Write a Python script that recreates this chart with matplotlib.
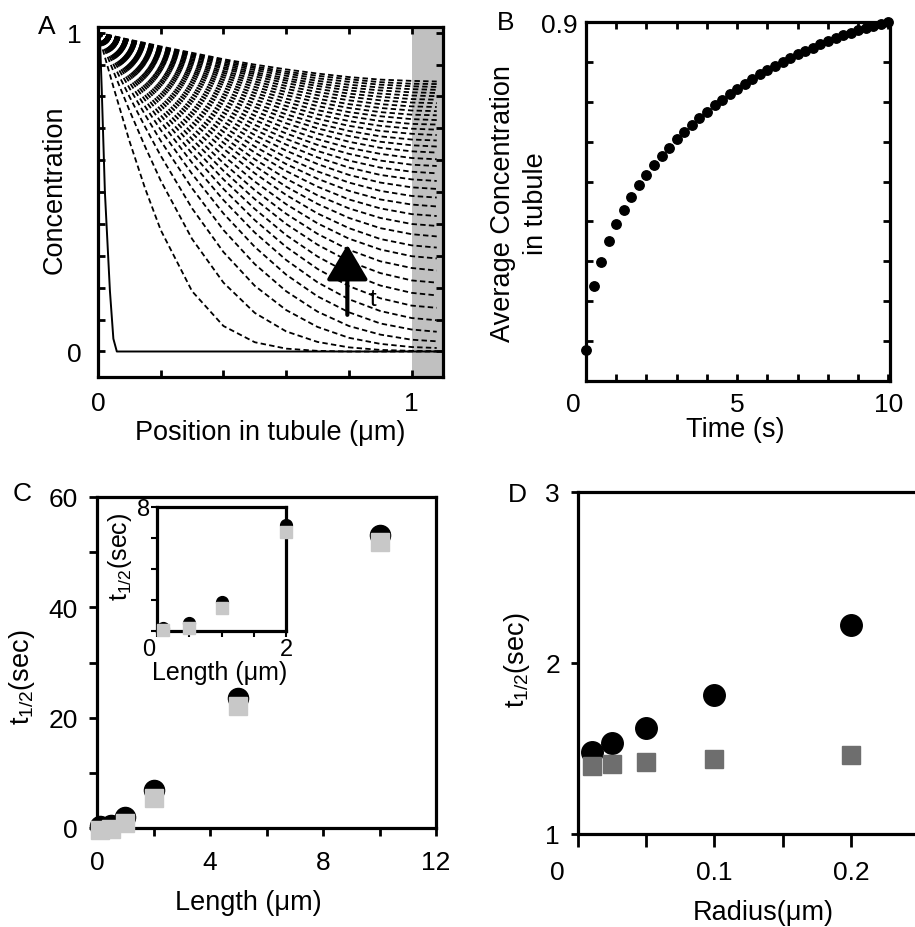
import numpy as np
import matplotlib
matplotlib.use('Agg')
import matplotlib.pyplot as plt
from matplotlib.transforms import ScaledTranslation

plt.rcParams['font.family'] = ['Liberation Sans', 'DejaVu Sans']
plt.rcParams['mathtext.default'] = 'regular'

# ---- panel A: concentration profiles along the tubule (one dashed line per time step)
pos_um = [0, 0.05, 0.1, 0.15, 0.2, 0.3, 0.4, 0.5, 0.6, 0.7, 0.8, 0.9, 1.0, 1.08]
profiles = [
    [1, .827, .661, .512, .381, .189, .080, .029, .009, .002, 0, 0, 0, 0],
    [1, .877, .757, .643, .536, .353, .216, .121, .063, .030, .013, .005, .002, .001],
    [1, .899, .800, .705, .614, .449, .312, .206, .130, .077, .043, .024, .014, .011],
    [1, .913, .827, .743, .661, .512, .381, .274, .189, .125, .080, .053, .037, .032],
    [1, .922, .845, .769, .695, .557, .433, .328, .241, .173, .123, .088, .069, .062],
    [1, .929, .858, .789, .721, .592, .475, .373, .287, .217, .164, .127, .105, .098],
    [1, .934, .869, .804, .741, .621, .510, .412, .328, .259, .205, .167, .144, .137],
    [1, .939, .878, .817, .758, .645, .540, .447, .365, .298, .245, .207, .184, .176],
    [1, .942, .885, .829, .773, .666, .567, .478, .400, .335, .283, .246, .223, .216],
    [1, .946, .892, .839, .786, .685, .591, .506, .432, .369, .319, .283, .262, .254],
    [1, .949, .898, .848, .798, .703, .614, .533, .462, .402, .354, .320, .299, .292],
    [1, .952, .904, .857, .810, .720, .636, .559, .491, .433, .387, .353, .333, .326],
    [1, .954, .909, .864, .820, .735, .655, .582, .517, .463, .419, .387, .368, .361],
    [1, .957, .914, .871, .829, .748, .672, .603, .542, .490, .449, .419, .400, .394],
    [1, .959, .918, .878, .838, .761, .689, .624, .566, .517, .477, .449, .431, .425],
    [1, .961, .922, .884, .847, .774, .705, .643, .588, .542, .504, .477, .461, .455],
    [1, .963, .926, .890, .854, .785, .721, .662, .609, .565, .530, .504, .488, .483],
    [1, .965, .930, .896, .862, .796, .735, .679, .630, .588, .554, .530, .515, .510],
    [1, .967, .934, .901, .869, .807, .749, .696, .649, .609, .577, .554, .540, .535],
    [1, .969, .937, .906, .876, .817, .762, .711, .667, .629, .599, .577, .564, .559],
    [1, .970, .941, .911, .882, .826, .774, .726, .684, .648, .620, .599, .586, .582],
    [1, .972, .944, .916, .888, .835, .786, .740, .700, .666, .639, .620, .607, .603],
    [1, .973, .947, .920, .894, .844, .797, .754, .716, .684, .658, .639, .628, .624],
    [1, .975, .949, .924, .900, .852, .807, .767, .731, .700, .676, .658, .647, .643],
    [1, .976, .952, .928, .905, .860, .817, .778, .744, .715, .692, .675, .665, .662],
    [1, .977, .954, .932, .910, .867, .827, .790, .758, .730, .708, .692, .683, .679],
    [1, .978, .957, .935, .914, .874, .836, .801, .770, .744, .723, .708, .699, .696],
    [1, .979, .959, .939, .919, .880, .844, .811, .782, .757, .738, .723, .714, .712],
    [1, .981, .961, .942, .923, .886, .852, .821, .793, .770, .751, .738, .729, .726],
    [1, .982, .963, .945, .927, .892, .860, .830, .804, .782, .764, .751, .743, .741],
    [1, .983, .965, .948, .931, .898, .867, .839, .814, .793, .776, .764, .756, .754],
    [1, .983, .967, .950, .934, .903, .874, .847, .824, .804, .788, .776, .769, .767],
    [1, .984, .969, .953, .938, .908, .880, .855, .833, .814, .799, .788, .781, .779],
    [1, .985, .970, .955, .941, .913, .887, .863, .842, .824, .809, .799, .792, .790],
    [1, .986, .972, .958, .944, .917, .892, .870, .850, .833, .819, .809, .803, .801],
    [1, .987, .973, .960, .947, .922, .898, .876, .857, .841, .828, .819, .813, .811],
    [1, .987, .975, .962, .950, .926, .903, .883, .865, .849, .837, .828, .823, .821],
    [1, .988, .976, .964, .952, .930, .908, .889, .872, .857, .846, .837, .832, .830],
    [1, .989, .977, .966, .955, .933, .913, .894, .878, .865, .854, .845, .840, .839],
    [1, .989, .978, .968, .957, .937, .917, .900, .885, .872, .861, .853, .849, .847],
]
start_x = [0, 0.006, 0.012, 0.022, 0.038, 0.049, 0.06, 1.1]
start_c = [1.0, 0.99, 0.82, 0.50, 0.19, 0.04, 0.0, 0.0]

# ---- panel B: average concentration in tubule vs time
time_s = [0, 0.25, 0.5, 0.75, 1, 1.25, 1.5, 1.75, 2, 2.25, 2.5, 2.75, 3, 3.25, 3.5, 3.75,
          4, 4.25, 4.5, 4.75, 5, 5.25, 5.5, 5.75, 6, 6.25, 6.5, 6.75, 7, 7.25, 7.5, 7.75,
          8, 8.25, 8.5, 8.75, 9, 9.25, 9.5, 9.75, 10]
avg_conc = [0.077, 0.237, 0.299, 0.352, 0.393, 0.429, 0.462, 0.491, 0.516, 0.541, 0.564,
            0.585, 0.606, 0.624, 0.642, 0.660, 0.675, 0.691, 0.705, 0.719, 0.733, 0.745,
            0.758, 0.769, 0.780, 0.790, 0.800, 0.811, 0.819, 0.827, 0.836, 0.844, 0.852,
            0.859, 0.867, 0.873, 0.879, 0.885, 0.890, 0.896, 0.900]

# ---- panel C: t1/2 vs tubule length (main + inset)
length_um = [0.1, 0.5, 1, 2, 5, 10]
thalf_circ = [0.3, 0.6, 2.0, 6.8, 23.5, 53.1]
thalf_sq = [-0.4, -0.2, 0.9, 5.5, 22.2, 51.8]
inset_len = [0.1, 0.5, 1, 2]
inset_circ = [0.22, 0.54, 1.88, 6.84]
inset_sq = [0.07, 0.22, 1.47, 6.36]

# ---- panel D: t1/2 vs tubule radius
radius_um = [0.01, 0.025, 0.05, 0.1, 0.2]
rad_circ = [1.48, 1.53, 1.62, 1.81, 2.22]
rad_sq = [1.40, 1.41, 1.42, 1.44, 1.46]

W, H = 915, 928
fig = plt.figure(figsize=(W / 100, H / 100), dpi=100)


def box(l, t, r, b):
    return [l / W, 1 - b / H, (r - l) / W, (b - t) / H]


LAB = 19.5
TCK = 19
SPW = 2.3


def frame(ax):
    for s in ax.spines.values():
        s.set_linewidth(SPW)


def shift_first_xlabel(ax, dx_px):
    lbl = ax.get_xticklabels()[0]
    lbl.set_transform(lbl.get_transform() + ScaledTranslation(dx_px / 100, 0, fig.dpi_scale_trans))


# A
axA = fig.add_axes(box(98, 28, 443, 378))
axA.axvspan(1.0, 1.1, color='#c0c0c0', lw=0, zorder=0)
for row in profiles:
    axA.plot(pos_um, row, color='k', lw=1.3, ls=(0, (3, 1.8)))
axA.plot(start_x, start_c, color='k', lw=1.4)
axA.annotate('', xy=(0.795, 0.335), xytext=(0.795, 0.115),
             arrowprops=dict(arrowstyle='-|>,head_length=1.1,head_width=0.65', lw=3,
                             color='k', mutation_scale=20, shrinkA=0, shrinkB=0))
axA.text(0.878, 0.165, 't', fontsize=17, ha='center', va='center')
axA.set_xlim(0, 1.1)
axA.set_ylim(-0.08, 1.018)
axA.set_xticks([0, 0.2, 0.4, 0.6, 0.8, 1.0], ['0', '', '', '', '', '1'])
axA.set_yticks([0, .1, .2, .3, .4, .5, .6, .7, .8, .9, 1.0],
               ['0', '', '', '', '', '', '', '', '', '', '1'])
axA.tick_params(direction='in', length=5, width=2, top=True, right=True, labelsize=TCK)
axA.tick_params(axis='x', pad=10)
axA.tick_params(axis='y', pad=12)
axA.set_xlabel('Position in tubule (\u03bcm)', fontsize=LAB)
axA.set_ylabel('Concentration', fontsize=LAB)
axA.xaxis.label.set_va('center')
axA.yaxis.label.set_va('center')
axA.xaxis.set_label_coords(0.5, -0.157)
axA.yaxis.set_label_coords(-0.125, 0.537)
frame(axA)

# B
axB = fig.add_axes(box(586, 23, 890, 382))
axB.plot(time_s, avg_conc, 'o', color='k', ms=6.8, clip_on=False)
axB.set_xlim(0, 10.05)
axB.set_ylim(0, 0.9)
axB.set_xticks(range(11), ['0', '', '', '', '', '5', '', '', '', '', '10'])
axB.set_yticks([0, .1, .2, .3, .4, .5, .6, .7, .8, .9],
               ['', '', '', '', '', '', '', '', '', '0.9'])
axB.tick_params(direction='in', length=5, width=2, top=True, right=True, labelsize=TCK)
axB.tick_params(axis='x', pad=8)
axB.tick_params(axis='y', pad=6)
axB.set_xlabel('Time (s)', fontsize=LAB)
axB.set_ylabel('Average Concentration\nin tubule', fontsize=LAB, linespacing=1.35)
axB.xaxis.label.set_va('center')
axB.yaxis.label.set_va('center')
axB.xaxis.set_label_coords(0.49, -0.134)
axB.yaxis.set_label_coords(-0.22, 0.496)
frame(axB)
shift_first_xlabel(axB, -13)

# C
axC = fig.add_axes(box(97, 498, 436, 829))
axC.plot(length_um, thalf_circ, 'o', color='k', ms=14.5, clip_on=False, zorder=3)
axC.plot(length_um, thalf_sq, 's', color='#c8c8c8', ms=13, clip_on=False, zorder=4)
axC.set_xlim(0, 12)
axC.set_ylim(0, 60)
axC.set_xticks([0, 2, 4, 6, 8, 10, 12], ['0', '', '4', '', '8', '', '12'])
axC.set_yticks([0, 10, 20, 30, 40, 50, 60], ['0', '', '20', '', '40', '', '60'])
axC.tick_params(direction='out', length=6, width=2, top=False, right=False, labelsize=TCK)
axC.tick_params(axis='x', pad=10)
axC.tick_params(axis='y', pad=8)
axC.set_xlabel('Length (\u03bcm)', fontsize=LAB)
axC.set_ylabel('t$_{1/2}$(sec)', fontsize=LAB)
axC.xaxis.label.set_va('center')
axC.yaxis.label.set_va('center')
axC.xaxis.set_label_coords(0.445, -0.224)
axC.yaxis.set_label_coords(-0.221, 0.459)
frame(axC)

axI = fig.add_axes(box(157, 508, 286, 632))
axI.plot(inset_len, inset_circ, 'o', color='k', ms=8.5, clip_on=False, zorder=3)
axI.plot(inset_len, inset_sq, 's', color='#c8c8c8', ms=8, clip_on=False, zorder=4)
axI.set_xlim(0, 2)
axI.set_ylim(0, 8)
axI.set_xticks([0, 0.5, 1, 1.5, 2], ['0', '', '', '', '2'])
axI.set_yticks([0, 2, 4, 6, 8], ['', '', '', '', '8'])
axI.tick_params(direction='out', length=4, width=1.5, top=False, right=False, labelsize=17)
axI.tick_params(axis='x', pad=1)
axI.tick_params(axis='y', pad=1)
axI.set_xlabel('Length (\u03bcm)', fontsize=18)
axI.set_ylabel('t$_{1/2}$(sec)', fontsize=18)
axI.xaxis.label.set_va('center')
axI.yaxis.label.set_va('center')
axI.xaxis.set_label_coords(0.488, -0.33)
axI.yaxis.set_label_coords(-0.287, 0.605)
frame(axI)
shift_first_xlabel(axI, -8)

# D
axD = fig.add_axes(box(578, 493, 915, 835))
axD.plot(radius_um, rad_circ, 'o', color='k', ms=15.5, clip_on=False, zorder=3)
axD.plot(radius_um, rad_sq, 's', color='#6e6e6e', ms=12.5, clip_on=False, zorder=4)
axD.set_xlim(0, 0.247)
axD.set_ylim(1, 3)
axD.set_xticks([0, 0.05, 0.1, 0.15, 0.2], ['0', '', '0.1', '', '0.2'])
axD.set_yticks([1, 2, 3], ['1', '2', '3'])
axD.tick_params(direction='out', width=2, top=False, right=False, labelsize=TCK)
axD.tick_params(axis='x', length=9, pad=10)
axD.tick_params(axis='y', length=5, pad=8)
axD.spines['right'].set_visible(False)
axD.set_xlabel('Radius(\u03bcm)', fontsize=LAB)
axD.set_ylabel('t$_{1/2}$(sec)', fontsize=LAB)
axD.xaxis.label.set_va('center')
axD.yaxis.label.set_va('center')
axD.xaxis.set_label_coords(0.549, -0.228)
axD.yaxis.set_label_coords(-0.181, 0.512)
frame(axD)
shift_first_xlabel(axD, -21)

# panel letters
for letter, px, py in [('A', 47, 27), ('B', 506, 23), ('C', 22, 494), ('D', 517, 495)]:
    fig.text(px / W, 1 - py / H, letter, fontsize=TCK, ha='center', va='center')

fig.savefig('out.png', dpi=100)
